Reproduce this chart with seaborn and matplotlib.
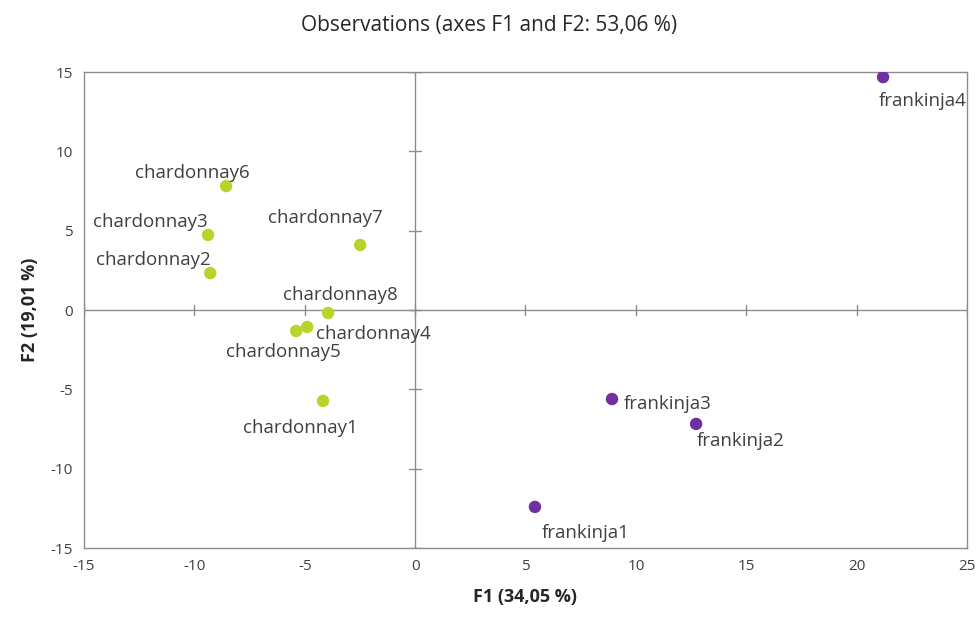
import matplotlib
matplotlib.use("Agg")
import matplotlib.pyplot as plt
import seaborn as sns
import pandas as pd

# Observation scores on the first two factors
names = ["chardonnay1", "chardonnay2", "chardonnay3", "chardonnay4", "chardonnay5",
         "chardonnay6", "chardonnay7", "chardonnay8",
         "frankinja1", "frankinja2", "frankinja3", "frankinja4"]
f1 = [-4.17, -9.28, -9.38, -4.89, -5.39, -8.56, -2.49, -3.94, 5.43, 12.73, 8.92, 21.2]
f2 = [-5.73, 2.33, 4.73, -1.07, -1.32, 7.81, 4.10, -0.19, -12.41, -7.18, -5.61, 14.68]
variety = ["chardonnay"] * 8 + ["frankinja"] * 4

# label offsets in pixels (dx, dy)
label_offsets = {
    "chardonnay1": (-23, -27), "chardonnay2": (-57, 13), "chardonnay3": (-58, 13),
    "chardonnay4": (66, -7), "chardonnay5": (-13, -21), "chardonnay6": (-34, 13),
    "chardonnay7": (-35, 27), "chardonnay8": (12, 18),
    "frankinja1": (51, -26), "frankinja2": (45, -17), "frankinja3": (56, -5),
    "frankinja4": (40, -24),
}

df = pd.DataFrame({"name": names, "F1": f1, "F2": f2, "variety": variety})

sns.set_style("white")
plt.rcParams["font.family"] = ["Open Sans", "DejaVu Sans"]
plt.rcParams["axes.unicode_minus"] = False

fig = plt.figure(figsize=(9.79, 6.17), dpi=100)
ax = fig.add_axes([0.0858, 0.1118, 0.9019, 0.7715])

palette = {"chardonnay": "#b8d42c", "frankinja": "#7030a0"}
sns.scatterplot(data=df, x="F1", y="F2", hue="variety", palette=palette,
                s=80, edgecolor="none", legend=False, ax=ax, zorder=3)

ax.set_xlim(-15, 25)
ax.set_ylim(-15, 15)
ax.set_xticks(range(-15, 26, 5))
ax.set_yticks(range(-15, 16, 5))

grey = "#8c8c8c"
for sp in ax.spines.values():
    sp.set_color(grey)
    sp.set_linewidth(1.0)

# zero lines with small cross ticks
ax.axhline(0, color=grey, lw=1.0, zorder=1)
ax.axvline(0, color=grey, lw=1.0, zorder=1)
for xt in range(-15, 26, 5):
    ax.plot([xt, xt], [-0.3, 0.3], color=grey, lw=1.0, zorder=1, clip_on=True)
for yt in range(-15, 16, 5):
    ax.plot([-0.27, 0.27], [yt, yt], color=grey, lw=1.0, zorder=1, clip_on=True)

ax.tick_params(axis="both", length=0, labelsize=11, labelcolor="#404040", pad=8)

ax.set_xlabel("F1 (34,05 %)", fontsize=13, fontweight="bold", labelpad=10,
              color="#262626")
ax.set_ylabel("F2 (19,01 %)", fontsize=13, fontweight="bold", labelpad=8,
              color="#262626")
fig.suptitle("Observations (axes F1 and F2: 53,06 %)", y=0.975, fontsize=15,
             color="#262626")

for n, x, y in zip(names, f1, f2):
    dx, dy = label_offsets[n]
    ax.annotate(n, (x, y), xytext=(dx, dy), textcoords="offset pixels",
                ha="center", va="center", fontsize=13.5, color="#404040", zorder=4)

fig.savefig("out.png", dpi=100)
